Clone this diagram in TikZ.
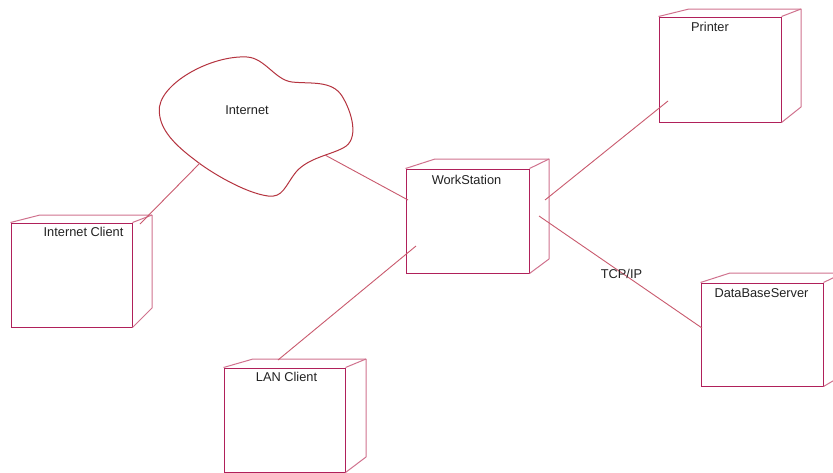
\documentclass[tikz,border=0pt]{standalone}
\usepackage{fontspec}
\setmainfont{Liberation Sans}
\definecolor{boxfront}{HTML}{B0205A}
\definecolor{boxback}{HTML}{D0728E}
\definecolor{wire}{HTML}{C95A6E}
\definecolor{cloudline}{HTML}{B5333F}
\definecolor{labeltext}{HTML}{222222}
\tikzset{
  front/.style={draw=boxfront, line width=1pt, rectangle, inner sep=0pt},
  backedge/.style={draw=boxback, line width=1pt, line join=round},
  link/.style={draw=wire, line width=0.9pt},
  lbl/.style={font=\fontsize{12.8}{14}\selectfont, text=labeltext, inner sep=0pt}
}
\begin{document}
\begin{tikzpicture}[x=1pt,y=-1pt]
\clip (0,0) rectangle (833,472);
\fill[white] (0,0) rectangle (833,472);

% device boxes: front face as a node, depth drawn from its corners
\node[front, minimum width=122pt, minimum height=105pt] (printer) at (720,69.5) {};
\draw[backedge] (printer.north west) -- (689,9) -- (801,9) -- (801,107) -- (printer.south east);
\draw[backedge] (printer.north east) -- (801,9);

\node[front, minimum width=121pt, minimum height=104pt] (iclient) at (71.5,275) {};
\draw[backedge] (iclient.north west) -- (40,215) -- (152,215) -- (152,308) -- (iclient.south east);
\draw[backedge] (iclient.north east) -- (152,215);

\node[front, minimum width=123pt, minimum height=104pt] (ws) at (467.5,221) {};
\draw[backedge] (ws.north west) -- (435,159) -- (549,159) -- (549,259) -- (ws.south east);
\draw[backedge] (ws.north east) -- (549,159);

\node[front, minimum width=121pt, minimum height=104pt] (lan) at (284.5,420) {};
\draw[backedge] (lan.north west) -- (253,359) -- (366,359) -- (366,457) -- (lan.south east);
\draw[backedge] (lan.north east) -- (366,359);

\node[front, minimum width=122pt, minimum height=103pt] (db) at (762,334.5) {};
\draw[backedge] (db.north west) -- (730,273) -- (843,273) -- (843,375) -- (db.south east);
\draw[backedge] (db.north east) -- (843,273);

% labels
\node[lbl] (printerlbl) at (710,27) {Printer};
\node[lbl] (iclientlbl) at (83.5,232) {Internet Client};
\node[lbl] (wslbl) at (466.5,180) {WorkStation};
\node[lbl] (lanlbl) at (286.5,377) {LAN Client};
\node[lbl] (dblbl) at (761.5,293) {DataBaseServer};

% the Internet cloud
\draw[cloudline, line width=1pt]
  (159.3,111.7) .. controls (157,85) and (210,55) .. (247,57)
  .. controls (265,58) and (275,80) .. (292,82)
  .. controls (310,84) and (332,80) .. (342,96)
  .. controls (352,112) and (360,140) .. (343,148)
  .. controls (330,155) and (308,158) .. (296,172)
  .. controls (285,186) and (283,198) .. (268,196)
  .. controls (245,193) and (210,172) .. (195,160)
  .. controls (175,145) and (160,130) .. (159.3,111.7) -- cycle;
\node[lbl] (cloudlbl) at (247,110) {Internet};

% connector end points
\coordinate (icEnd) at (140,224);
\coordinate (cloudA) at (200,163);
\coordinate (cloudB) at (325,155);
\coordinate (wsW) at (408,200);
\coordinate (wsSW) at (416,246);
\coordinate (lanTop) at (278,360);
\coordinate (wsNE) at (545,200);
\coordinate (prnIn) at (668,101);
\coordinate (wsE) at (539,216);
\coordinate (dbW) at (702,328);

\draw[link] (icEnd) -- (cloudA);
\draw[link] (cloudB) -- (wsW);
\draw[link] (wsSW) -- (lanTop);
\draw[link] (wsNE) -- (prnIn);
\draw[link] (wsE) -- (dbW);

\node[lbl] (tcp) at (621.5,273.5) {TCP/IP};
\end{tikzpicture}
\end{document}
